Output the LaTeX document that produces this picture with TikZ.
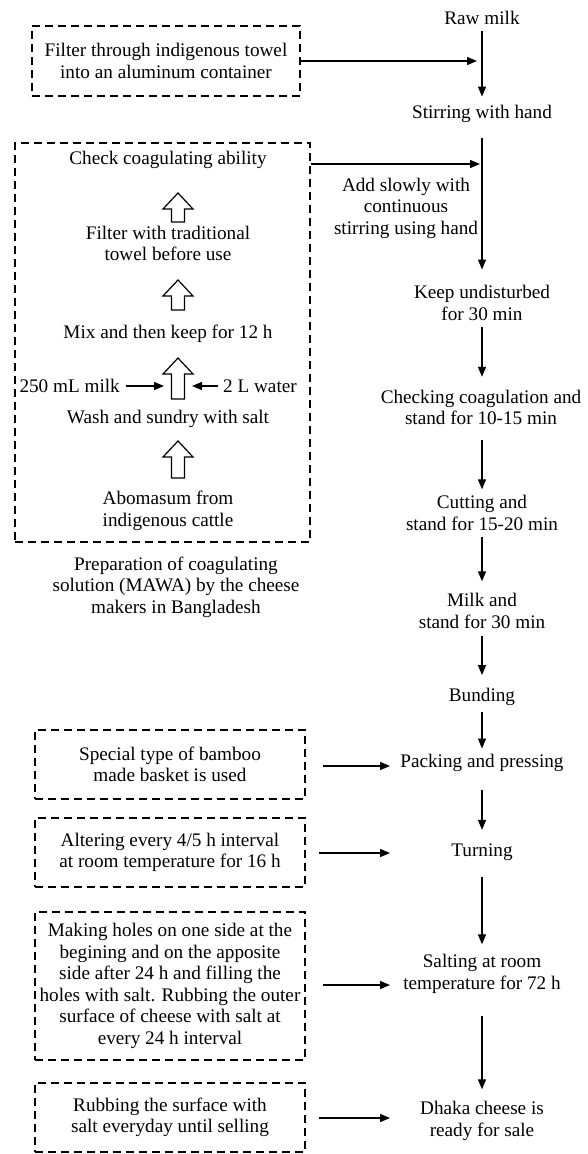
\documentclass[tikz,border=0pt]{standalone}
\usepackage{fontspec}
\setmainfont{Liberation Serif}
\usetikzlibrary{arrows.meta,calc}
\newcommand\hollowup[3]{%
  \draw[harrow] (#1,#2) -- (#1+15,#2+16) -- (#1+6.5,#2+16) -- (#1+6.5,#3)
    -- (#1-6.5,#3) -- (#1-6.5,#2+16) -- (#1-15,#2+16) -- cycle;}
\begin{document}
\begin{tikzpicture}[x=1pt,y=-1pt,
  every node/.style={font=\fontsize{19.2}{21.5}\selectfont, align=center, inner sep=3pt},
  arr/.style={line width=1.3pt, -{Triangle[length=10pt,width=8pt]}},
  dbox/.style={draw, dash pattern=on 8pt off 5pt, line width=1.3pt, inner sep=0pt},
  harrow/.style={line width=1.2pt, line join=miter}]
\useasboundingbox (0,0) rectangle (587,1154);

% right column
\node (raw)   at (482,18)   {Raw milk};
\node (stir)  at (482,114)  {Stirring with hand};
\node (keep)  at (482,303)  {Keep undisturbed\\for 30 min};
\node (check) at (481,407.5){Checking coagulation and\\stand for 10-15 min};
\node (cut)   at (482,513)  {Cutting and\\stand for 15-20 min};
\node (milk)  at (482,611)  {Milk and\\stand for 30 min};
\node (bund)  at (482,697)  {Bunding};
\node (pack)  at (482,763)  {Packing and pressing};
\node (turn)  at (482,852)  {Turning};
\node (salt)  at (482,974)  {Salting at room\\temperature for 72 h};
\node (dhaka) at (482,1121) {Dhaka cheese is\\ready for sale};
\node (add)   at (406,208)  {Add slowly with\\continuous\\stirring using hand};

\draw[arr, shorten <=3.5pt, shorten >=5.5pt] (raw) -- (stir);
\draw[arr, shorten <=12.5pt, shorten >=12.75pt] (stir) -- (keep);
\draw[arr, shorten <=3pt, shorten >=10pt] (keep) -- (check.north -| keep);
\draw[arr, shorten <=12pt, shorten >=3pt] (check.south -| cut) -- (cut);
\draw[arr, shorten <=3pt, shorten >=9pt] (cut) -- (milk);
\draw[arr, shorten <=4pt, shorten >=10pt] (milk) -- (bund);
\draw[arr, shorten <=3.5pt, shorten >=2.5pt] (bund) -- (pack);
\draw[arr, shorten <=15.5pt, shorten >=10.5pt] (pack) -- (turn);
\draw[arr, shorten <=13.5pt, shorten >=7pt] (turn) -- (salt);
\draw[arr, shorten <=19pt, shorten >=9pt] (salt) -- (dhaka);

% left boxes
\node[dbox, minimum width=268pt, minimum height=70pt] (box1) at (166,61)
  {Filter through indigenous towel\\into an aluminum container};
\coordinate (e1) at (477,61);
\draw[arr] (box1) -- (e1);

\node[dbox, minimum width=295pt, minimum height=399pt] (box2) at (162.5,342.5) {};
\coordinate (e2) at (480,164);
\draw[arr] (box2.east |- e2) -- (e2);

\node (chk)  at (168,160) {Check coagulating ability};
\node (filt) at (168,243.5) {Filter with traditional\\towel before use};
\node (mix)  at (168,334) {Mix and then keep for 12 h};
\node (wash) at (168,419) {Wash and sundry with salt};
\node (abo)  at (168,511) {Abomasum from\\indigenous cattle};
\node[anchor=east] (ml) at (123,386) {250 mL milk};
\node[anchor=west] (lw) at (220,386) {2 L water};
\coordinate (ml2) at (164,386);
\coordinate (lw2) at (192,386);
\draw[arr, shorten <=3pt] (ml) -- (ml2);
\draw[arr, shorten <=2pt] (lw) -- (lw2);

\hollowup{178}{193}{222}
\hollowup{178}{280}{310}
\hollowup{178}{358}{399}
\hollowup{178}{441}{478}

\node (cap) at (176,587) {Preparation of coagulating\\solution (MAWA) by the cheese\\makers in Bangladesh};

\node[dbox, minimum width=270pt, minimum height=69pt] (box3) at (170,764.5)
  {Special type of bamboo\\made basket is used};
\node[dbox, minimum width=270pt, minimum height=69pt] (box4) at (170,852.5)
  {Altering every 4/5 h interval\\at room temperature for 16 h};
\node[dbox, minimum width=270pt, minimum height=148pt] (box5) at (170,986)
  {Making holes on one side at the\\begining and on the apposite\\side after 24 h and filling the\\holes with salt. Rubbing the outer\\surface of cheese with salt at\\every 24 h interval};
\node[dbox, minimum width=270pt, minimum height=69pt] (box6) at (170,1117.5)
  {Rubbing the surface with\\salt everyday until selling};

\coordinate (t3) at (390,766);
\coordinate (t4) at (390,853);
\coordinate (t5) at (390,985);
\coordinate (t6) at (390,1118);
\draw[arr, shorten <=17pt] (box3.east |- t3) -- (t3);
\draw[arr, shorten <=13pt] (box4.east |- t4) -- (t4);
\draw[arr, shorten <=17pt] (box5.east |- t5) -- (t5);
\draw[arr, shorten <=13pt] (box6.east |- t6) -- (t6);
\end{tikzpicture}
\end{document}
